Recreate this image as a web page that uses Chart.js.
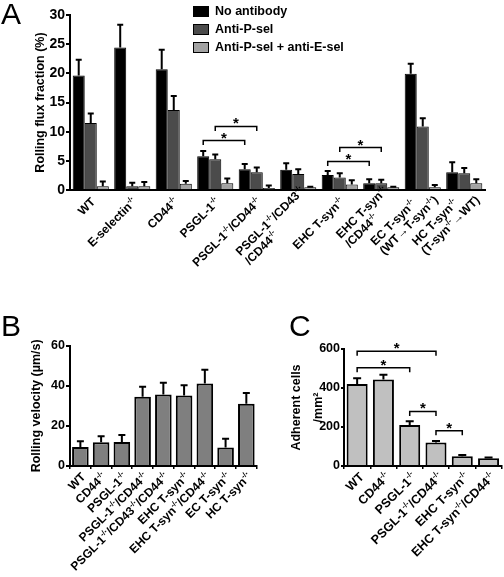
<!DOCTYPE html>
<html>
<head>
<meta charset="utf-8">
<script src="https://cdn.jsdelivr.net/npm/chart.js@4"></script>
<style>
    body { margin: 0; background: #fff; }
    #fig { position: relative; width: 504px; height: 577px; overflow: hidden; font-family: "Liberation Sans", Arial, sans-serif; }
    canvas { position: absolute; }
    .panel { position: absolute; font-size: 30px; line-height: 1; }
</style>
</head>
<body>
<div id="fig">
    <canvas id="chartA" width="504" height="325" style="left:0;top:0"></canvas>
    <canvas id="chartB" width="258" height="247" style="left:0;top:330px"></canvas>
    <canvas id="chartC" width="244" height="247" style="left:260px;top:330px"></canvas>
    <div class="panel" style="left:1px;top:-1px">A</div>
    <div class="panel" style="left:1px;top:311px">B</div>
    <div class="panel" style="left:289px;top:311px">C</div>
</div>
<script>
// {..} marks superscript text
const fluxLabels = ['WT', 'E-selectin{-/-}', 'CD44{-/-}', 'PSGL-1{-/-}', 'PSGL-1{-/-}/CD44{-/-}',
    ['PSGL-1{-/-}/CD43{-/-}', '/CD44{-/-}'], 'EHC T-syn{-/-}', ['EHC T-syn{-/-}', '/CD44{-/-}'],
    ['EC T-syn{-/-}', '(WT→T-syn{-/-})'], ['HC T-syn{-/-}', '(T-syn{-/-}→WT)']];
const fluxNoAb = [19.6, 24.4, 20.7, 5.8, 3.6, 3.5, 2.6, 1.2, 19.9, 3.1];
const fluxNoAbErr = [22.3, 28.3, 24.0, 6.7, 4.5, 4.6, 3.3, 1.9, 21.6, 4.8];
const fluxAntiP = [11.5, 0.7, 13.7, 5.3, 3.1, 2.8, 2.2, 1.2, 10.9, 2.9];
const fluxAntiPErr = [13.1, 1.3, 16.1, 6.1, 3.9, 3.6, 2.9, 1.8, 12.3, 3.8];
const fluxAntiPE = [0.7, 0.7, 1.1, 1.2, 0.4, 0.5, 1.0, 0.5, 0.5, 1.2];
const fluxAntiPEErr = [1.5, 1.4, 1.6, 2.0, 0.8, 0.6, 1.7, 0.6, 0.9, 1.9];
// [category, dataset, category, dataset, height]
const fluxSig = [[3, 0, 4, 0, 8.5], [3, 1, 4, 1, 10.9], [6, 0, 7, 0, 4.9], [6, 1, 7, 1, 7.3]];

const velocityLabels = ['WT', 'CD44{-/-}', 'PSGL-1{-/-}', 'PSGL-1{-/-}/CD44{-/-}', 'PSGL-1{-/-}/CD43{-/-}/CD44{-/-}',
    'EHC T-syn{-/-}', 'EHC T-syn{-/-}/CD44{-/-}', 'EC T-syn{-/-}', 'HC T-syn{-/-}'];
const velocityValues = [9.5, 11.8, 12.0, 34.5, 35.7, 35.1, 41.2, 9.2, 31.1];
const velocityErr = [12.3, 14.8, 15.4, 39.5, 41.5, 40.3, 48.0, 13.6, 36.4];

const adherentLabels = ['WT', 'CD44{-/-}', 'PSGL-1{-/-}', 'PSGL-1{-/-}/CD44{-/-}', 'EHC T-syn{-/-}', 'EHC T-syn{-/-}/CD44{-/-}'];
const adherentValues = [420, 443, 210, 120, 50, 40];
const adherentErr = [450, 468, 230, 128, 57, 43];
const adherentSig = [[0, 0, 3, 0, 588], [0, 0, 2, 0, 504], [2, 0, 3, 0, 280], [3, 0, 4, 0, 181]];

const FONT = '"Liberation Sans", Arial, Helvetica, sans-serif';
Chart.defaults.font.family = FONT;
Chart.defaults.font.weight = 'bold';
Chart.defaults.color = '#000';

function pieces(text) {
    return text.split(/[{}]/).map((t, k) => ({ t: t, sup: k % 2 === 1 })).filter(p => p.t);
}

function richWidth(ctx, text, size) {
    let w = 0;
    pieces(text).forEach(p => {
        ctx.font = 'bold ' + (p.sup ? size * 0.62 : size) + 'px ' + FONT;
        w += ctx.measureText(p.t).width;
    });
    return w;
}

function drawRich(ctx, text, x, v, size) {
    const base = v + size * 0.36;
    pieces(text).forEach(p => {
        ctx.font = 'bold ' + (p.sup ? size * 0.62 : size) + 'px ' + FONT;
        ctx.fillText(p.t, x, p.sup ? base - size * 0.42 : base);
        x += ctx.measureText(p.t).width;
    });
}

function slantLabels(size, u1, u2, v0, lh) {
    return {
        id: 'slantLabels',
        afterDraw(chart) {
            const ctx = chart.ctx;
            const xs = chart.scales.x;
            ctx.save();
            ctx.fillStyle = '#000';
            ctx.textAlign = 'left';
            ctx.textBaseline = 'alphabetic';
            chart.data.labels.forEach((label, i) => {
                const lines = [].concat(label);
                const w = Math.max(...lines.map(l => richWidth(ctx, l, size)));
                const u = lines.length > 1 ? u2 : u1;
                ctx.save();
                ctx.translate(xs.getPixelForValue(i), chart.chartArea.bottom);
                ctx.rotate(-Math.PI / 4);
                lines.forEach((line, k) => {
                    drawRich(ctx, line, u - w, v0 + (k - (lines.length - 1) / 2) * lh, size);
                });
                ctx.restore();
            });
            ctx.restore();
        }
    };
}

function errorBars(errors, cap) {
    return {
        id: 'errorBars',
        afterDatasetsDraw(chart) {
            const ctx = chart.ctx;
            const ys = chart.scales.y;
            ctx.save();
            ctx.strokeStyle = '#000';
            ctx.lineWidth = 2;
            errors.forEach((errs, d) => {
                chart.getDatasetMeta(d).data.forEach((bar, i) => {
                    const top = ys.getPixelForValue(errs[i]);
                    ctx.beginPath();
                    ctx.moveTo(bar.x, bar.y);
                    ctx.lineTo(bar.x, top);
                    ctx.moveTo(bar.x - cap / 2, top);
                    ctx.lineTo(bar.x + cap / 2, top);
                    ctx.stroke();
                });
            });
            ctx.restore();
        }
    };
}

function brackets(sigs) {
    return {
        id: 'brackets',
        afterDatasetsDraw(chart) {
            const ctx = chart.ctx;
            const ys = chart.scales.y;
            ctx.save();
            ctx.strokeStyle = '#000';
            ctx.fillStyle = '#000';
            ctx.lineWidth = 1.5;
            ctx.font = 'bold 15px ' + FONT;
            ctx.textAlign = 'center';
            ctx.textBaseline = 'alphabetic';
            sigs.forEach(s => {
                const x1 = chart.getDatasetMeta(s[1]).data[s[0]].x;
                const x2 = chart.getDatasetMeta(s[3]).data[s[2]].x;
                const y = ys.getPixelForValue(s[4]);
                ctx.beginPath();
                ctx.moveTo(x1, y + 4.5);
                ctx.lineTo(x1, y);
                ctx.lineTo(x2, y);
                ctx.lineTo(x2, y + 4.5);
                ctx.stroke();
                ctx.fillText('*', (x1 + x2) / 2, y + 2);
            });
            ctx.restore();
        }
    };
}

const boxLegend = {
    id: 'boxLegend',
    afterDraw(chart) {
        const ctx = chart.ctx;
        ctx.save();
        ctx.font = 'bold 12.5px ' + FONT;
        ctx.textBaseline = 'middle';
        chart.data.datasets.forEach((ds, k) => {
            const y = 11.5 + k * 18;
            ctx.fillStyle = ds.backgroundColor;
            ctx.fillRect(193, y - 5.5, 16, 11);
            ctx.strokeStyle = '#000';
            ctx.lineWidth = 1;
            ctx.strokeRect(193.5, y - 5, 15, 10);
            ctx.fillStyle = '#000';
            ctx.fillText(ds.label, 215, y + 0.5);
        });
        ctx.restore();
    }
};

function yAxis(max, step, tickSize, width, title, titlePad, tickLen, lineHeight) {
    return {
        min: 0,
        max: max,
        ticks: { stepSize: step, padding: 1, font: { size: tickSize, weight: 'bold' }, color: '#000' },
        grid: { display: true, drawOnChartArea: false, drawTicks: true, tickLength: tickLen, color: '#000', lineWidth: 2 },
        border: { display: true, color: '#000', width: 2 },
        title: {
            display: true,
            text: title,
            color: '#000',
            font: { size: 12.5, weight: 'bold', lineHeight: lineHeight },
            padding: { top: titlePad, bottom: 0 }
        },
        afterFit(scale) { scale.width = width; }
    };
}

function xAxis(withTicks) {
    return {
        offset: true,
        ticks: { display: false },
        grid: withTicks
            ? { display: true, drawOnChartArea: false, offset: true, drawTicks: true, tickLength: 3, color: '#000', lineWidth: 1.5 }
            : { display: false },
        border: { display: true, color: '#000', width: 2 },
        afterFit(scale) { scale.height = 0; }
    };
}

const baseOptions = {
    responsive: false,
    animation: false,
    events: []
};

new Chart(document.getElementById('chartA'), {
    type: 'bar',
    data: {
        labels: fluxLabels,
        datasets: [
            { label: 'No antibody', data: fluxNoAb, backgroundColor: '#000000', borderColor: '#000', borderWidth: 1 },
            { label: 'Anti-P-sel', data: fluxAntiP, backgroundColor: '#4b4b4b', borderColor: '#000', borderWidth: 1 },
            { label: 'Anti-P-sel + anti-E-sel', data: fluxAntiPE, backgroundColor: '#a2a2a2', borderColor: '#000', borderWidth: 1 }
        ]
    },
    options: Object.assign({}, baseOptions, {
        categoryPercentage: 0.87,
        barPercentage: 1,
        layout: { padding: { left: 0, right: 19, top: 14.7, bottom: 134.7 } },
        plugins: { legend: { display: false }, tooltip: { enabled: false } },
        scales: {
            x: xAxis(false),
            y: yAxis(30, 5, 14, 70, 'Rolling flux fraction (%)', 33.5, 4, 1.2)
        }
    }),
    plugins: [errorBars([fluxNoAbErr, fluxAntiPErr, fluxAntiPEErr], 6), brackets(fluxSig),
        slantLabels(12, -5, 4, 8, 13), boxLegend]
});

new Chart(document.getElementById('chartB'), {
    type: 'bar',
    data: {
        labels: velocityLabels,
        datasets: [
            { label: 'Rolling velocity', data: velocityValues, backgroundColor: '#7f7f7f', borderColor: '#000', borderWidth: 2 }
        ]
    },
    options: Object.assign({}, baseOptions, {
        categoryPercentage: 1,
        barPercentage: 0.8,
        layout: { padding: { left: 0, right: 1.3, top: 15.7, bottom: 111 } },
        plugins: { legend: { display: false }, tooltip: { enabled: false } },
        scales: {
            x: xAxis(true),
            y: yAxis(60, 20, 12.5, 70, 'Rolling velocity (µm/s)', 29.5, 4, 1.2)
        }
    }),
    plugins: [errorBars([velocityErr], 7), slantLabels(12, -4, -4, 8, 13)]
});

new Chart(document.getElementById('chartC'), {
    type: 'bar',
    data: {
        labels: adherentLabels,
        datasets: [
            { label: 'Adherent cells', data: adherentValues, backgroundColor: '#c0c0c0', borderColor: '#000', borderWidth: 2 }
        ]
    },
    options: Object.assign({}, baseOptions, {
        categoryPercentage: 1,
        barPercentage: 0.8,
        layout: { padding: { left: 0, right: 2.3, top: 19, bottom: 111 } },
        plugins: { legend: { display: false }, tooltip: { enabled: false } },
        scales: {
            x: xAxis(true),
            y: yAxis(600, 200, 12.5, 84, ['Adherent cells', '/mm²'], 26.4, 3, 1.7)
        }
    }),
    plugins: [errorBars([adherentErr], 8), brackets(adherentSig), slantLabels(12.5, -3, -3, 9, 13)]
});
</script>
</body>
</html>
